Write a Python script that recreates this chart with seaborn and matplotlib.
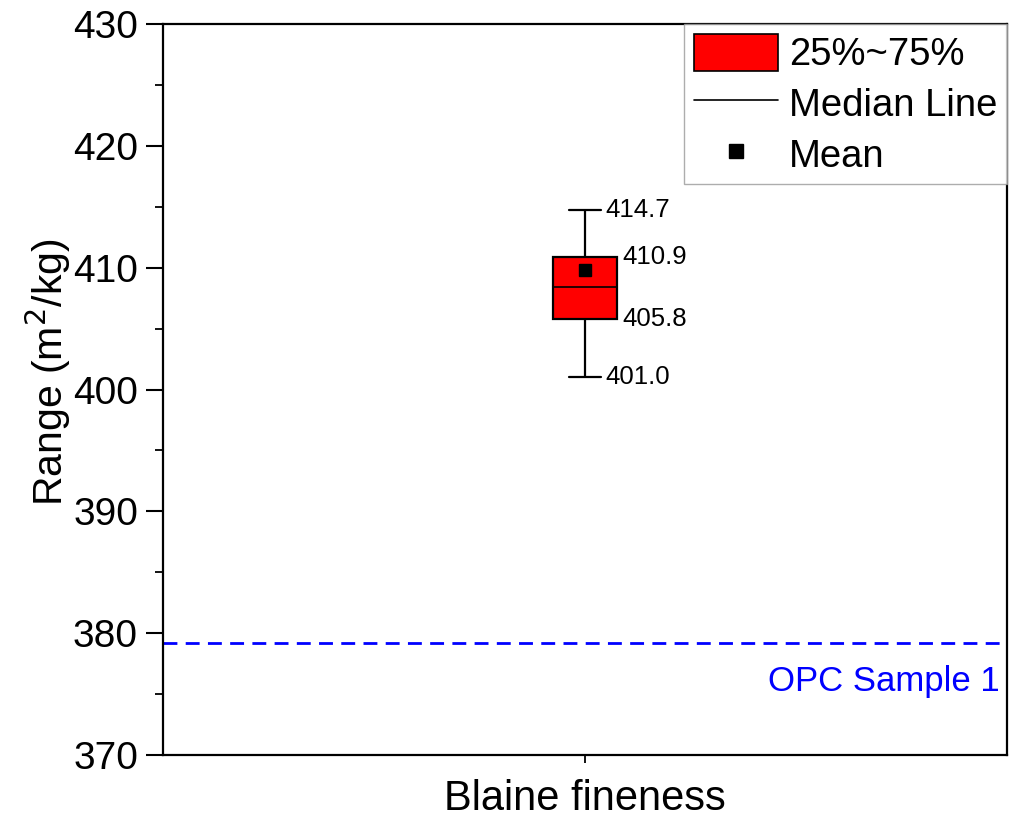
import pandas as pd
import matplotlib
matplotlib.use('Agg')
import matplotlib.pyplot as plt
import seaborn as sns
from matplotlib.patches import Patch
from matplotlib.lines import Line2D

# five-number summary of the Blaine fineness results (m2/kg)
category = ['Blaine fineness']
box_values = [401.0, 405.8, 408.4, 410.9, 414.7]
mean_value = [409.8]
label_values = [414.7, 410.9, 405.8, 401.0]
opc_reference = 379.2
y_ticks = [370, 380, 390, 400, 410, 420, 430]

sns.set_style('white')
plt.rcParams['font.family'] = ['Liberation Sans', 'DejaVu Sans']
plt.rcParams['text.color'] = 'black'
plt.rcParams['axes.labelcolor'] = 'black'
plt.rcParams['xtick.color'] = 'black'
plt.rcParams['ytick.color'] = 'black'

df = pd.DataFrame({'test': category * len(box_values), 'value': box_values})

fig = plt.figure(figsize=(10.09, 8.22), dpi=100)
ax = fig.add_axes([0.1615, 0.0815, 0.8365, 0.8893])

sns.boxplot(data=df, x='test', y='value', ax=ax, width=0.076, whis=10,
            color='#ff0000', saturation=1, linecolor='black', linewidth=1.6,
            showfliers=False,
            medianprops={'color': 'black', 'linewidth': 1.2})
ax.plot([0], mean_value, marker='s', color='black', markersize=8.5, linestyle='none')

# value labels next to the whiskers and the box
offsets = [0.024, 0.044, 0.044, 0.024]
for v, dx in zip(label_values, offsets):
    ax.text(dx, v, f'{v:.1f}', fontsize=18.5, va='center', ha='left')

ax.axhline(opc_reference, color='#0000ff', linestyle=(0, (5, 3)), linewidth=2)
ax.text(0.492, opc_reference - 1.8, 'OPC Sample 1', color='#0000ff',
        fontsize=25, ha='right', va='top')

ax.set_xlim(-0.5, 0.5)
ax.set_ylim(370, 430)
ax.set_yticks(y_ticks)
ax.set_yticks(range(375, 430, 10), minor=True)
ax.tick_params(axis='y', which='major', direction='out', length=12, width=1.5,
               labelsize=28, left=True, pad=6)
ax.tick_params(axis='y', which='minor', direction='out', length=6, width=1.3, left=True)
ax.tick_params(axis='x', direction='out', length=6, width=1.3, labelsize=30, bottom=True,
               pad=11)
ax.set_xlabel('')
ax.set_ylabel('Range (m$^2$/kg)', fontsize=29.5)
ax.yaxis.set_label_coords(-0.106, 0.524)
for sp in ax.spines.values():
    sp.set_visible(True)
    sp.set_color('black')
    sp.set_linewidth(1.6)

handles = [Patch(facecolor='#ff0000', edgecolor='black', linewidth=1.2),
           Line2D([], [], color='black', linewidth=1.2),
           Line2D([], [], marker='s', color='black', linestyle='none', markersize=10)]
leg = ax.legend(handles, ['25%~75%', 'Median Line', 'Mean'], loc='upper right',
                fontsize=27.5, borderaxespad=0, frameon=True, fancybox=False,
                handlelength=2.2, handleheight=1.15, labelspacing=0.28,
                handletextpad=0.3, borderpad=0.25)
leg.get_frame().set_edgecolor('#999999')
leg.get_frame().set_linewidth(1.0)

fig.savefig('out.png', dpi=100)
